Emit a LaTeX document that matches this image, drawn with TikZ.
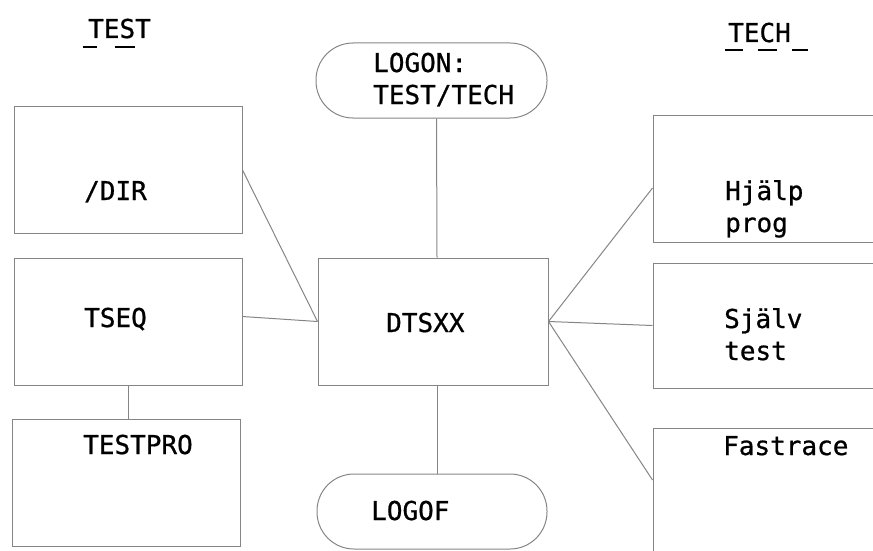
\documentclass[tikz,border=0pt]{standalone}
\usepackage{fontspec}
\newfontfamily\typer[FakeBold=0.8]{DejaVu Sans Mono}
\usetikzlibrary{calc}
\definecolor{rule}{HTML}{858585}
\tikzset{
  box/.style={draw=rule,line width=1pt,minimum width=228pt,minimum height=127pt,inner sep=0pt},
  term/.style={box,rounded corners=37pt,minimum height=75pt},
  lab/.style={font=\typer\fontsize{26}{32}\selectfont,anchor=base west,inner sep=0pt,align=left},
  link/.style={draw=rule,line width=1pt},
  ulin/.style={draw=black,line width=1.6pt},
}
\begin{document}
\begin{tikzpicture}[x=1pt,y=-1pt]
\useasboundingbox (0,0) rectangle (873,551);
% boxes
\node[box] (dir) at (128,170) {};
\node[box] (tseq) at (128,321.5) {};
\node[box] (tpro) at (126,482.5) {};
\node[term,minimum width=231pt] (logon) at (431.5,80.5) {};
\node[box,minimum width=230pt] (dtsxx) at (433,321.5) {};
\node[term,minimum width=230pt] (logof) at (432,511.5) {};
\node[box,minimum width=250pt] (hjalp) at (778,178.5) {};
\node[box,minimum width=250pt,minimum height=125pt] (sjalv) at (778,325.5) {};
\node[box,minimum width=250pt,minimum height=160pt] (fast) at (778,508) {};
% texts (base = last line)
\node[lab] (hTest) at (88,38) {TEST};
\node[lab] (hTech) at (728,42) {TECH};
\node[lab] (tDir) at (84,200) {/DIR};
\node[lab] (tTseq) at (84,327) {TSEQ};
\node[lab] (tTpro) at (83,454) {TESTPRO};
\node[lab] (tLogon) at (373,104) {LOGON:\\TEST/TECH};
\node[lab] (tDts) at (386,332) {DTSXX};
\node[lab] (tLogof) at (371,520) {LOGOF};
\node[lab] (tHj) at (725,232) {Hjälp\\prog};
\node[lab] (tSj) at (724,360) {Själv\\test};
\node[lab] (tFa) at (723,455) {Fastrace};
% underlines
\draw[ulin] (83,47) -- (97,47) (115,47) -- (135,47);
\draw[ulin] (725,50) -- (743,50) (758,50) -- (777,50) (792,50) -- (808,50);
% links
\draw[link] (dir.east) -- (dtsxx.west);
\draw[link] ([yshift=5pt]tseq.east) -- (dtsxx.west);
\draw[link] (tseq.south) -- (tseq.south |- tpro.north);
\draw[link] ([xshift=5pt]logon.south) -- ([xshift=4pt]dtsxx.north);
\draw[link] ([xshift=4pt]dtsxx.south) -- ([xshift=5pt]logof.north);
\draw[link] (dtsxx.east) -- ([yshift=-9.5pt]hjalp.west);
\draw[link] (dtsxx.east) -- (sjalv.west);
\draw[link] (dtsxx.east) -- ([yshift=28pt]fast.west);
\end{tikzpicture}
\end{document}
